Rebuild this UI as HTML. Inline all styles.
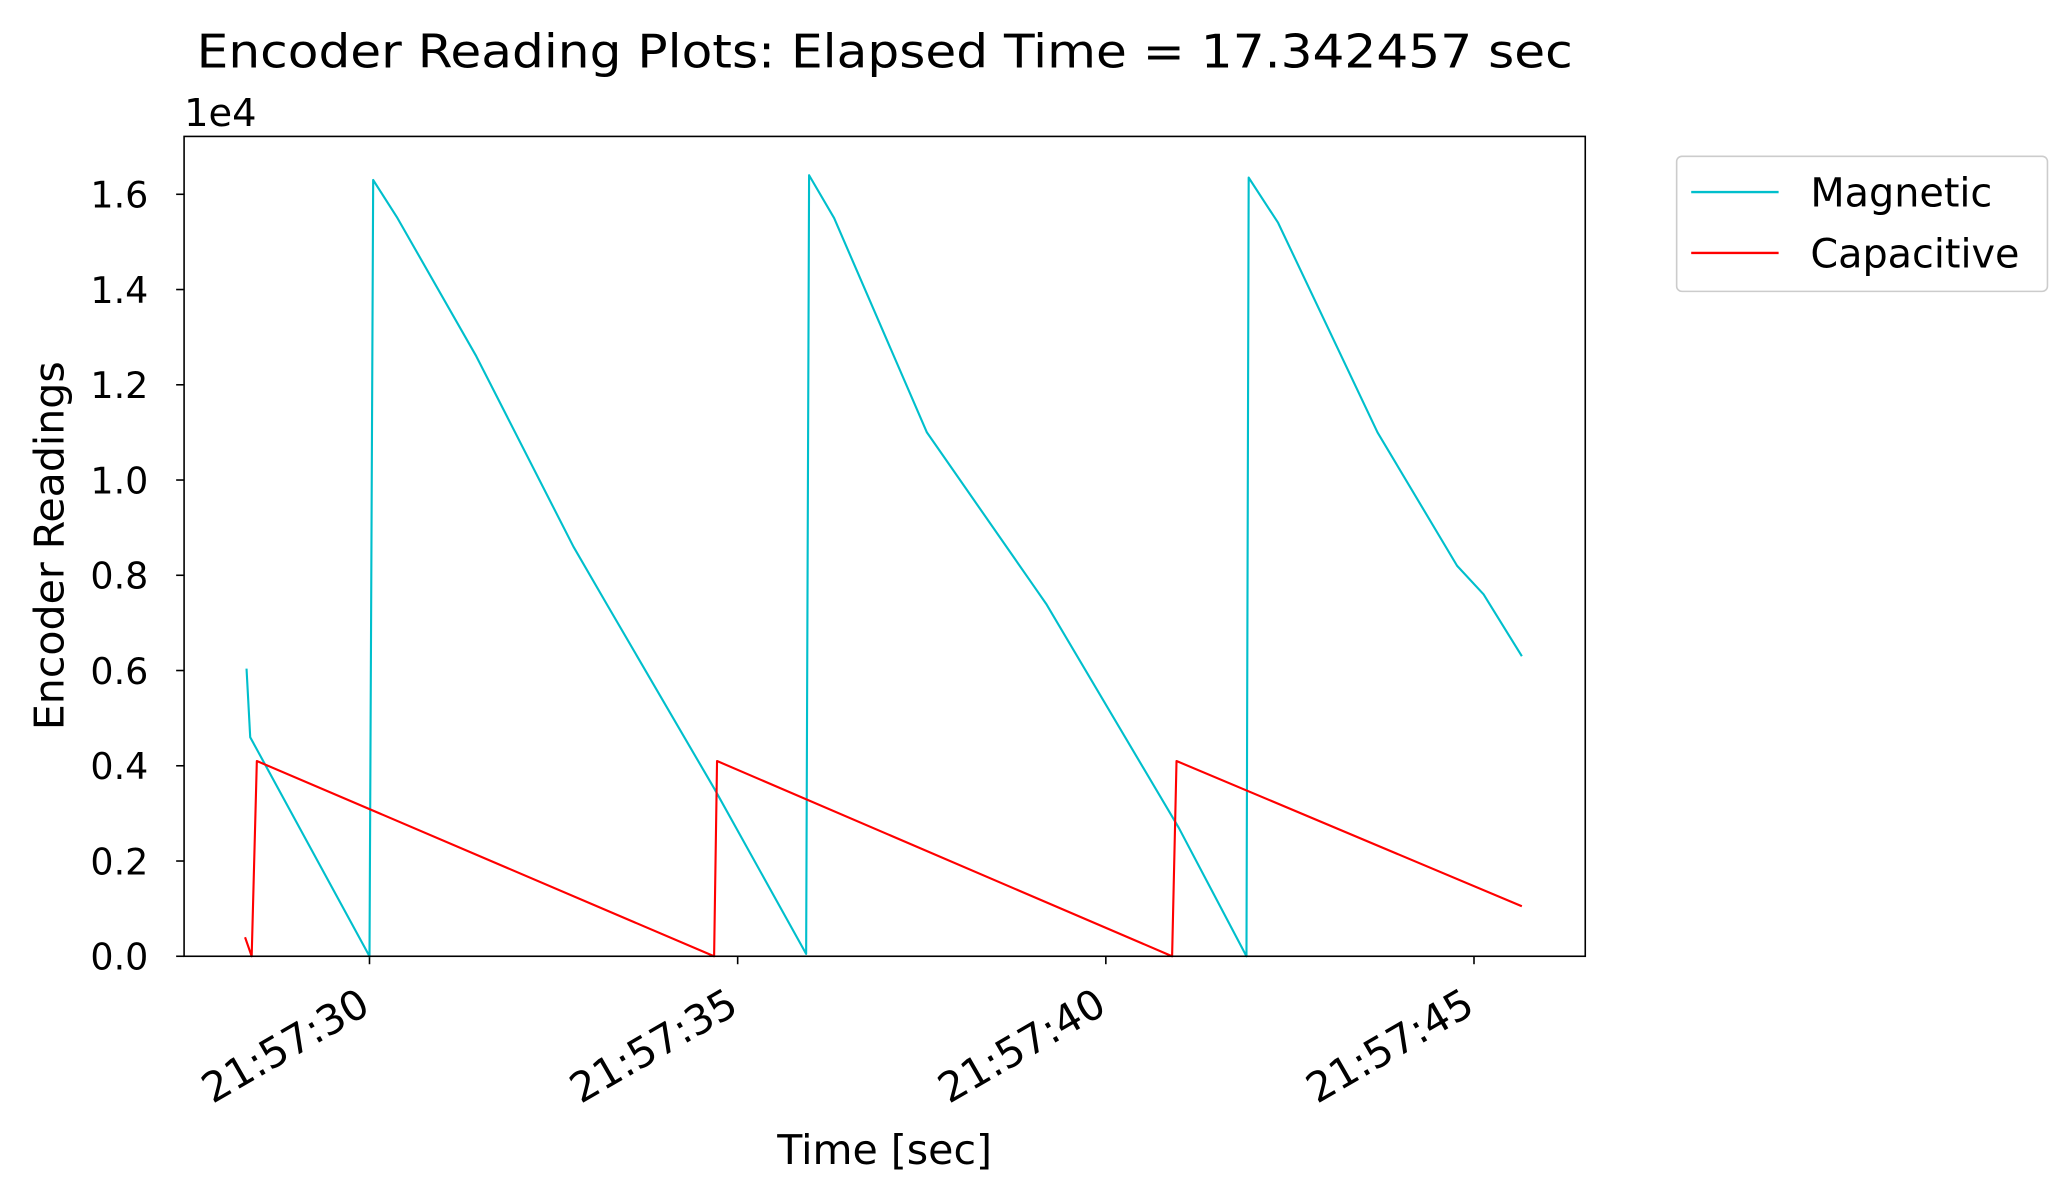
<!DOCTYPE html>
<html><head><meta charset="utf-8"><style>
html,body{margin:0;padding:0;background:#fff}
svg{display:block;font-family:"DejaVu Sans","Liberation Sans",sans-serif}
</style></head><body>
<svg id="chart" width="2066" height="1196" viewBox="0 0 1560 903" preserveAspectRatio="none" xmlns="http://www.w3.org/2000/svg">
<rect width="1560" height="903" fill="#fff"/>
<text x="668" y="51" font-size="35" text-anchor="middle" textLength="1039" lengthAdjust="spacingAndGlyphs">Encoder Reading Plots: Elapsed Time = 17.342457 sec</text>
<text x="139" y="95" font-size="29">1e4</text>
<text transform="translate(48,412) rotate(-90)" font-size="31" text-anchor="middle">Encoder Readings</text>
<text x="668" y="879" font-size="31" text-anchor="middle">Time [sec]</text>
<g id="plot"></g>
<rect x="139" y="103" width="1058" height="619" fill="none" stroke="#000" stroke-width="1.2"/>
<g>
<rect x="1266" y="118" width="280" height="102" rx="4" fill="#fff" stroke="#ccc" stroke-width="1.2"/>
<line x1="1277" y1="145" x2="1343" y2="145" stroke="#00bfcc" stroke-width="1.8"/>
<text x="1367" y="156" font-size="30">Magnetic</text>
<line x1="1277" y1="191" x2="1343" y2="191" stroke="#ff0000" stroke-width="1.8"/>
<text x="1367" y="202" font-size="30">Capacitive</text>
</g>
</svg>
<script>
// seconds relative to 21:57:30
const magT = [-1.67,-1.62,0,0.05,0.38,1.45,2.77,3.22,4.69,5.93,5.97,6.31,7.57,9.01,9.19,10.99,11.91,11.94,12.34,13.69,14.77,15.13,15.65];
const magV = [0.604,0.46,0,1.63,1.55,1.26,0.86,0.74,0.35,0.005,1.64,1.55,1.1,0.78,0.74,0.27,0,1.635,1.54,1.1,0.82,0.76,0.63];
const capT = [-1.69,-1.6,-1.53,4.68,4.72,10.9,10.96,15.65];
const capV = [0.04,0,0.41,0.0,0.41,0.0,0.41,0.105];
const yTicks = [0,0.2,0.4,0.6,0.8,1.0,1.2,1.4,1.6];
const xTicks = [0,5,10,15];
const xTickLabels = ["21:57:30","21:57:35","21:57:40","21:57:45"];

const X0=139,X1=1197,Y0=722,Y1=103;
const tMin=-2.518,tMax=16.511,vMax=1.7215;
const sx=t=>X0+(t-tMin)/(tMax-tMin)*(X1-X0);
const sy=v=>Y0-v/vMax*(Y0-Y1);
const NS="http://www.w3.org/2000/svg";
const g=document.getElementById('plot');
function mk(tag,attrs){const e=document.createElementNS(NS,tag);for(const k in attrs)e.setAttribute(k,attrs[k]);g.appendChild(e);return e;}
yTicks.forEach(v=>{
  const l=mk('line',{x1:X0-6,x2:X0,y1:sy(v),y2:sy(v),stroke:'#000','stroke-width':1.2});
  
  
  const t=mk('text',{x:X0-27,y:sy(v)+10,'font-size':27.5,'text-anchor':'end'});
  t.textContent=v.toFixed(1);
  
  
});
xTicks.forEach((s,i)=>{
  const x=sx(s);
  const l=mk('line',{x1:x,x2:x,y1:Y0,y2:Y0+6,stroke:'#000','stroke-width':1.2});
  
  
  const t=mk('text',{transform:`translate(${x+2},${Y0+42}) rotate(-30)`,'font-size':31,'text-anchor':'end'});
  t.textContent=xTickLabels[i];
  
  
});
function line(T,V,color,w,name){
  const p=mk('polyline',{points:T.map((t,i)=>sx(t)+','+sy(V[i])).join(' '),fill:'none',stroke:color,'stroke-width':w,'stroke-linejoin':'round'});
  
  
}
line(magT,magV,'#00bfcc',1.6,'magnetic-line');
line(capT,capV,'#ff0000',1.6,'capacitive-line');
</script>
</body></html>
